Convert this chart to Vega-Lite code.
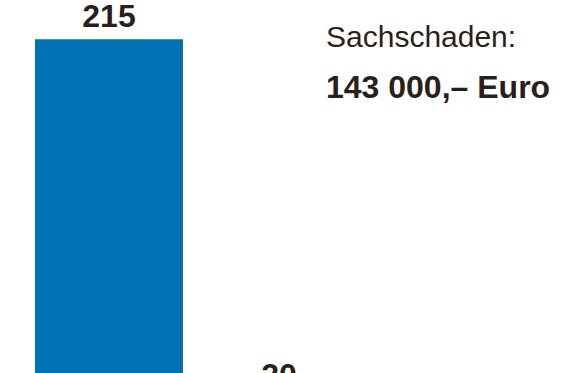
{
  "$schema": "https://vega.github.io/schema/vega-lite/v6.json",
  "autosize": {"type": "fit", "contains": "padding"},
  "padding": 0,
  "width": 567,
  "height": 373,
  "background": "#ffffff",
  "config": {"view": {"stroke": null}},
  "datasets": {
    "bars": [
      {"cat": "A", "value": 215},
      {"cat": "B", "value": 20}
    ],
    "notes": [
      {"cat": "B", "line": 1, "label": "Sachschaden:"},
      {"cat": "B", "line": 2, "label": "143 000,– Euro"}
    ]
  },
  "layer": [
    {"data": {"name": "bars"},
     "mark": {"type": "bar", "color": "#0072B4", "clip": true},
     "encoding": {
       "x": {"field": "cat", "type": "nominal", "axis": null,
             "scale": {"type": "band", "range": [35, 353], "paddingInner": 0.1294, "paddingOuter": 0}},
       "y": {"field": "value", "type": "quantitative", "axis": null,
             "scale": {"domain": [33.6, 236.4], "nice": false, "zero": false}}
     }},
    {"data": {"name": "bars"},
     "mark": {"type": "text", "clip": true, "font": "Liberation Sans", "fontWeight": "bold", "fontSize": 32,
              "baseline": "alphabetic", "align": "center", "dy": -12, "color": "#2a1f1a"},
     "encoding": {
       "x": {"field": "cat", "type": "nominal", "axis": null},
       "y": {"field": "value", "type": "quantitative", "axis": null},
       "text": {"field": "value", "type": "quantitative"}
     }},
    {"data": {"name": "notes"},
     "transform": [{"filter": "datum.line == 1"}],
     "mark": {"type": "text", "font": "Liberation Sans", "fontSize": 30, "align": "left",
              "baseline": "alphabetic", "dx": 47, "dy": 8, "color": "#2a1f1a"},
     "encoding": {
       "x": {"field": "cat", "type": "nominal", "axis": null},
       "y": {"datum": 215, "type": "quantitative"},
       "text": {"field": "label", "type": "nominal"}
     }},
    {"data": {"name": "notes"},
     "transform": [{"filter": "datum.line == 2"}],
     "mark": {"type": "text", "font": "Liberation Sans", "fontWeight": "bold", "fontSize": 32, "align": "left",
              "baseline": "alphabetic", "dx": 47, "dy": 59, "color": "#2a1f1a"},
     "encoding": {
       "x": {"field": "cat", "type": "nominal", "axis": null},
       "y": {"datum": 215, "type": "quantitative"},
       "text": {"field": "label", "type": "nominal"}
     }}
  ]
}
